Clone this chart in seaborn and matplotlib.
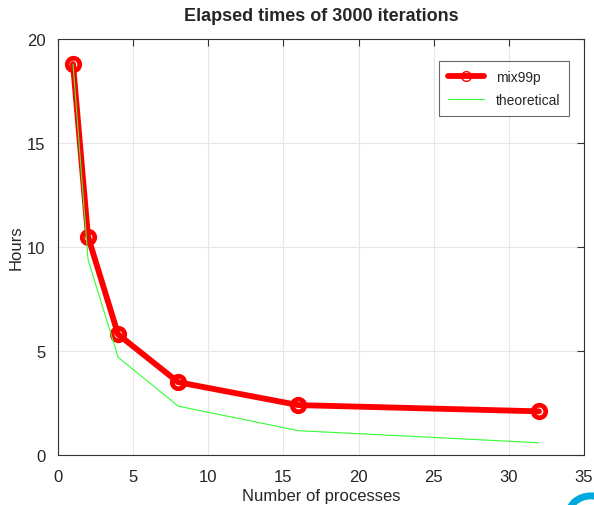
import matplotlib
matplotlib.use("Agg")
import matplotlib.pyplot as plt
import seaborn as sns
import pandas as pd
from matplotlib.patches import Circle

# valores
procesos = [1, 2, 4, 8, 16, 32]
horas_mix99p = [18.8, 10.5, 5.8, 3.5, 2.4, 2.1]
horas_teoricas = [18.8, 9.4, 4.7, 2.35, 1.17, 0.59]

df = pd.DataFrame({"procesos": procesos, "mix99p": horas_mix99p, "theoretical": horas_teoricas})

sns.set_style("white")
plt.rcParams["font.family"] = ["Liberation Sans", "DejaVu Sans"]

fig = plt.figure(figsize=(5.94, 5.06), dpi=100)
ax = fig.add_axes([0.0976, 0.0988, 0.8855, 0.822])

sns.lineplot(data=df, x="procesos", y="mix99p", ax=ax, color="#ff0000", linewidth=4.2,
             marker="o", markersize=9, markerfacecolor="none", markeredgecolor="#ff0000",
             markeredgewidth=3.4, label="mix99p", zorder=3)
sns.lineplot(data=df, x="procesos", y="theoretical", ax=ax, color="#33ff33", linewidth=0.8,
             label="theoretical", zorder=4)

ax.set_xlim(0, 35)
ax.set_ylim(0, 20)
ax.set_xticks(range(0, 36, 5))
ax.set_yticks(range(0, 21, 5))
ax.grid(True, color="#e6e6e6", linewidth=0.8)
ax.set_axisbelow(True)
for s in ax.spines.values():
    s.set_color("#333333")
    s.set_linewidth(0.8)
ax.tick_params(direction="in", length=5, width=0.8, color="#333333", labelsize=12,
               labelcolor="#262626", top=True, right=True)
ax.tick_params(axis="x", pad=10)
ax.tick_params(axis="y", pad=9)

ax.set_title("Elapsed times of 3000 iterations", fontsize=13, fontweight="bold", pad=14)
ax.set_xlabel("Number of processes", fontsize=12, color="#262626", labelpad=3)
ax.set_ylabel("Hours", fontsize=12, color="#262626", labelpad=2)

leg = ax.legend(loc="upper right", bbox_to_anchor=(0.985, 0.965), fontsize=10, frameon=True,
                fancybox=False, edgecolor="#444444", handlelength=2.6, borderpad=0.65,
                labelspacing=0.65)
leg.get_frame().set_linewidth(0.8)
# en la leyenda el círculo es fino
linea_leg = leg.get_lines()[0]
linea_leg.set_markeredgewidth(1)
linea_leg.set_markersize(7)

# arco cian en la esquina
fig.patches.append(Circle((0.995, -0.02), 0.038, transform=fig.transFigure, fill=False,
                          edgecolor="#00aadd", linewidth=5, clip_on=False))

fig.savefig("out.png", dpi=100)
